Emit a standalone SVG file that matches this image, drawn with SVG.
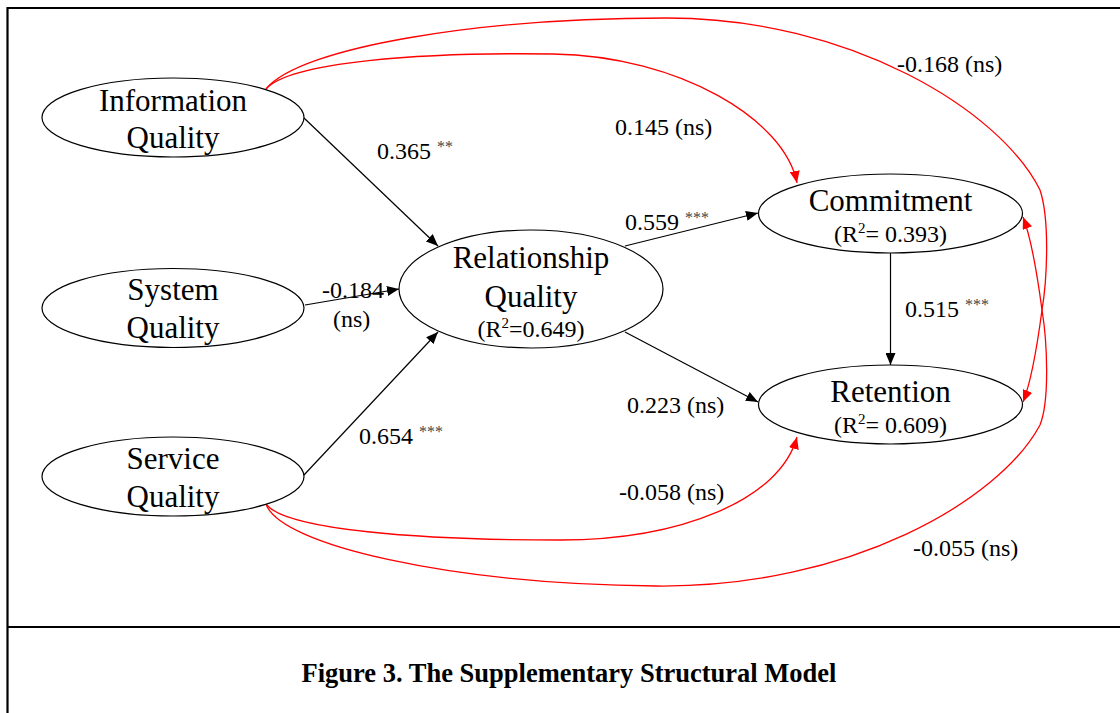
<svg xmlns="http://www.w3.org/2000/svg" width="1120" height="713" viewBox="0 0 1120 713">
<style>
.node{fill:#fff;stroke:#000;stroke-width:1.2}
.nl{font-family:"Liberation Serif","Times New Roman",serif;font-size:31px;fill:#000;text-anchor:middle}
.r2{font-family:"Liberation Serif","Times New Roman",serif;font-size:24px;fill:#000;text-anchor:middle}
.el{font-family:"Liberation Serif","Times New Roman",serif;font-size:24px;fill:#000}
.st{font-size:16px;fill:#444}
.sup{font-size:15px}
.blk{fill:none;stroke:#000;stroke-width:1.2}
.red{fill:none;stroke:#f00;stroke-width:1.3}
.frame{fill:none;stroke:#000;stroke-width:2.2}
.title{font-family:"Liberation Serif","Times New Roman",serif;font-size:26.5px;font-weight:bold;fill:#000;text-anchor:middle}
</style>
<defs>
<marker id="ab" viewBox="0 0 12 10" refX="12" refY="5" markerWidth="12" markerHeight="10" orient="auto" markerUnits="userSpaceOnUse"><path d="M0,0 L12,5 L0,10 z" fill="#000"/></marker>
<marker id="ar" viewBox="0 0 12 10" refX="12" refY="5" markerWidth="12" markerHeight="10" orient="auto" markerUnits="userSpaceOnUse"><path d="M0,0 L12,5 L0,10 z" fill="#f00"/></marker>
</defs>
<rect x="0" y="0" width="1120" height="713" fill="#fff"/>
<path class="frame" d="M1121,8 H7.5 V714"/>
<line class="frame" x1="7.5" y1="627" x2="1121" y2="627"/>

<g id="connectors">
<line class="blk" x1="304" y1="118" x2="438" y2="246" marker-end="url(#ab)"/>
<line class="blk" x1="305" y1="305" x2="399" y2="289" marker-end="url(#ab)"/>
<line class="blk" x1="304" y1="475" x2="438" y2="332" marker-end="url(#ab)"/>
<line class="blk" x1="625" y1="246" x2="758" y2="213" marker-end="url(#ab)"/>
<line class="blk" x1="625" y1="332" x2="758" y2="402" marker-end="url(#ab)"/>
<line class="blk" x1="890.5" y1="253" x2="890.5" y2="365" marker-end="url(#ab)"/>
<path class="red" d="M266,89 C290,62 420,52 553,54 C680,56 785,120 797,183" marker-end="url(#ar)"/>
<path class="red" d="M266,89 C300,47 480,18 667,18 C850,18 1000,110 1040,190 C1050,220 1047,280 1042,310 C1038,340 1032,380 1023,402" marker-end="url(#ar)"/>
<path class="red" d="M266,504 C285,530 420,540 560,540 C680,540 780,500 797,437" marker-end="url(#ar)"/>
<path class="red" d="M266,504 C280,545 450,584 656,586 C850,588 1000,500 1040,425 C1050,400 1047,340 1042,310 C1038,280 1032,240 1023,217" marker-end="url(#ar)"/>
</g>

<g id="info-quality">
<ellipse class="node" cx="173" cy="117.5" rx="131" ry="39.5"/>
<text class="nl" x="173" y="111">Information</text>
<text class="nl" x="173" y="148">Quality</text>
</g>
<g id="system-quality">
<ellipse class="node" cx="173" cy="308" rx="131" ry="39.5"/>
<text class="nl" x="173" y="300">System</text>
<text class="nl" x="173" y="338">Quality</text>
</g>
<g id="service-quality">
<ellipse class="node" cx="173" cy="476.5" rx="131" ry="39.5"/>
<text class="nl" x="173" y="469">Service</text>
<text class="nl" x="173" y="507">Quality</text>
</g>
<g id="relationship-quality">
<ellipse class="node" cx="531" cy="289" rx="132" ry="59"/>
<text class="nl" x="531" y="268">Relationship</text>
<text class="nl" x="531" y="307">Quality</text>
<text class="r2" x="531" y="337">(R<tspan class="sup" dy="-9">2</tspan><tspan dy="9">=0.649)</tspan></text>
</g>
<g id="commitment">
<ellipse class="node" cx="890.5" cy="213.5" rx="132" ry="39.5"/>
<text class="nl" x="890.5" y="211">Commitment</text>
<text class="r2" x="890.5" y="242">(R<tspan class="sup" dy="-9">2</tspan><tspan dy="9">= 0.393)</tspan></text>
</g>
<g id="retention">
<ellipse class="node" cx="890.5" cy="404.5" rx="132" ry="39.5"/>
<text class="nl" x="890.5" y="402">Retention</text>
<text class="r2" x="890.5" y="433">(R<tspan class="sup" dy="-9">2</tspan><tspan dy="9">= 0.609)</tspan></text>
</g>

<g id="edge-labels">
<text class="el" x="377" y="159">0.365 <tspan class="st" dy="-7">**</tspan></text>
<text class="el" x="615" y="135">0.145 (ns)</text>
<text class="el" x="897" y="72">-0.168 (ns)</text>
<text class="el" x="625" y="230">0.559 <tspan class="st" dy="-7">***</tspan></text>
<text class="el" x="322" y="298">-0.184</text>
<text class="el" x="333" y="327">(ns)</text>
<text class="el" x="905" y="317">0.515 <tspan class="st" dy="-7">***</tspan></text>
<text class="el" x="627" y="413">0.223 (ns)</text>
<text class="el" x="359" y="444">0.654 <tspan class="st" dy="-7">***</tspan></text>
<text class="el" x="619" y="500">-0.058 (ns)</text>
<text class="el" x="913" y="556">-0.055 (ns)</text>
</g>

<text class="title" x="569" y="682">Figure 3. The Supplementary Structural Model</text>
</svg>
